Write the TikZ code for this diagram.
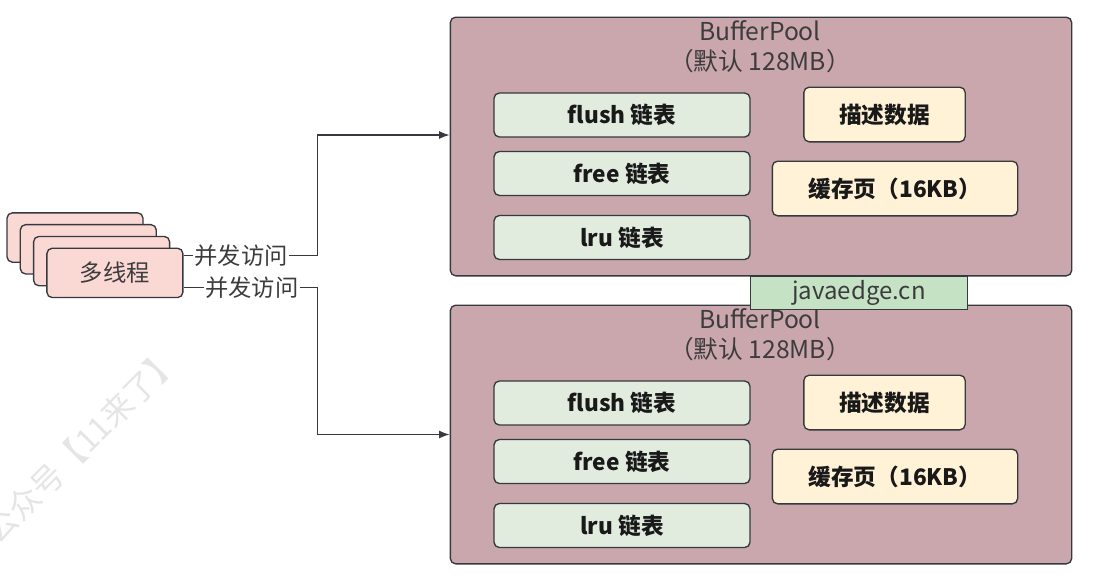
\documentclass[tikz,border=0pt]{standalone}
\usepackage{fontspec}
\setmainfont{Noto Sans CJK SC}
\usetikzlibrary{arrows.meta,calc}
\definecolor{poolfill}{RGB}{201,167,172}
\definecolor{listfill}{RGB}{225,236,223}
\definecolor{datafill}{RGB}{255,242,214}
\definecolor{threadfill}{RGB}{250,217,213}
\definecolor{tagfill}{RGB}{197,226,196}
\definecolor{edgecol}{RGB}{54,57,61}
\definecolor{textcol}{RGB}{60,60,60}

\begin{document}
\begin{tikzpicture}[x=0.75pt,y=-0.75pt,line width=1pt,
	box/.style={draw=edgecol,rounded corners=4pt,inner sep=0pt},
	pool node/.style={box,fill=poolfill,minimum width=466pt,minimum height=194pt},
	list node/.style={box,fill=listfill,minimum width=192pt,minimum height=33pt,font=\fontsize{17}{20}\selectfont\bfseries,text=black!90},
	data node/.style={box,fill=datafill,minimum height=41pt,font=\fontsize{17}{20}\selectfont\bfseries,text=black!90},
	thread node/.style={box,fill=threadfill,minimum width=102pt,minimum height=37pt,font=\fontsize{17.5}{20}\selectfont,text=textcol},
	title node/.style={align=center,font=\fontsize{18.5}{22.5}\selectfont,text=textcol},
	conc/.style={fill=white,inner sep=1pt,font=\fontsize{17.5}{20}\selectfont,text=textcol},
	flow/.style={draw=edgecol,-{Latex[length=8pt,width=6pt]}}]

	\useasboundingbox (0,0) rectangle (1094,582);

	% watermark
	\begin{scope}
		\clip (0,0) rectangle (1094,582);
		\node[rotate=45,text=black!10,font=\fontsize{24}{24}\selectfont] (wm) at (82,445) {公众号【11来了】};
	\end{scope}

	% the two buffer pools
	\foreach \k/\dy in {1/0,2/288}{
		\node[pool node] (pool\k) at (761,146.5+\dy) {};
		\node[title node] (title\k) at (760,47+\dy) {BufferPool\\（默认 128MB）};
		\node[list node] (flush\k) at (622,115+\dy) {flush 链表};
		\node[list node] (free\k) at (622,173.5+\dy) {free 链表};
		\node[list node] (lru\k) at (622,237.5+\dy) {lru 链表};
		\node[data node,minimum width=121pt] (desc\k) at (884.5,114.5+\dy) {描述数据};
		\node[data node,minimum width=184pt] (page\k) at (895,188.5+\dy) {缓存页（16KB）};
	}

	\node[box,rounded corners=0pt,fill=tagfill,minimum width=163pt,minimum height=25pt,
		font=\fontsize{18}{20}\selectfont,text=textcol] (tag) at (859,292.5) {javaedge.cn};

	% stacked threads
	\foreach \i in {0,...,3}
		\node[thread node] (t\i) at (75+13.3*\i,237.5+11.8*\i) {多线程};

	\draw[flow] ($(t3.east)+(0,-17.5)$) -- node[conc,pos=0.43] {并发访问} ++(134,0)
		|- ($(pool1.west)+(0,-11.5)$);
	\draw[flow] ($(t3.east)+(0,14.5)$) -- node[conc,pos=0.51] {并发访问} ++(134,0)
		|- (pool2.west);

\end{tikzpicture}
\end{document}
